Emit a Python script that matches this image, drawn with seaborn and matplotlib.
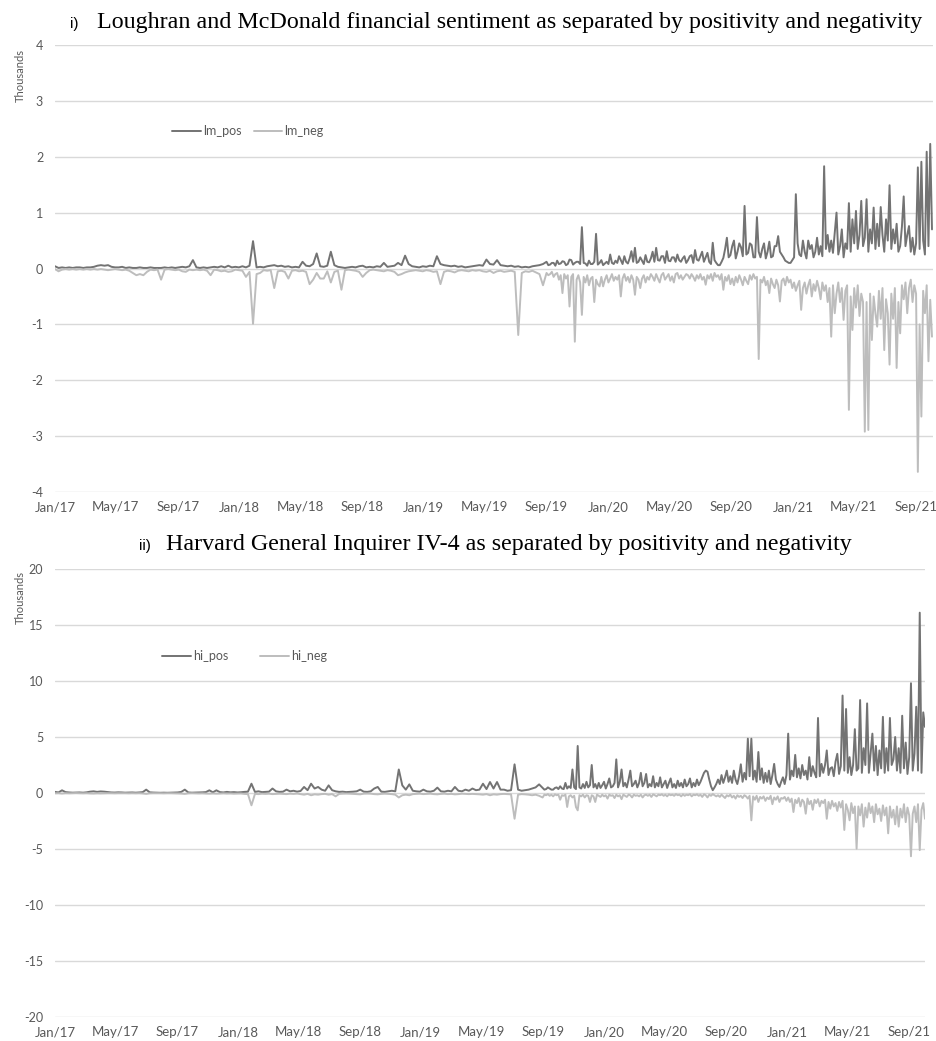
"""
Sentiment LM et Harvard IV-4 séparé en positif / négatif (valeurs en milliers).
"""

import matplotlib

matplotlib.use("Agg")

import matplotlib.dates as mdates
import matplotlib.pyplot as plt
import pandas as pd
import seaborn as sns


# Jusqu'à fin août 2019 : une valeur par semaine ; ensuite : deux par semaine
EARLY_START = "2017-01-01"
EARLY_STEP = "7D"
LATE_START = "2019-09-01"
LATE_STEP = "84h"

# Loughran & McDonald, en milliers
LM_POS_EARLY = [
    0.04, 0.01, 0.02, 0.01, 0.02, 0.01, 0.02, 0.02, 0.01, 0.02,
    0.02, 0.03, 0.05, 0.06, 0.05, 0.06, 0.03, 0.02, 0.02, 0.03,
    0.01, 0.02, 0.01, 0.01, 0.02, 0.01, 0.01, 0.02, 0.01, 0.01,
    0.01, 0.02, 0.01, 0.02, 0.01, 0.02, 0.03, 0.02, 0.04, 0.15,
    0.02, 0.01, 0.02, 0.01, 0.02, 0.03, 0.02, 0.04, 0.02, 0.05,
    0.02, 0.03, 0.02, 0.04, 0.02, 0.05, 0.49, 0.02, 0.03, 0.02,
    0.04, 0.05, 0.06, 0.04, 0.05, 0.03, 0.04, 0.02, 0.03, 0.02,
    0.12, 0.05, 0.04, 0.08, 0.27, 0.04, 0.03, 0.05, 0.30, 0.06,
    0.03, 0.02, 0.01, 0.02, 0.03, 0.02, 0.04, 0.05, 0.02, 0.03,
    0.02, 0.04, 0.03, 0.10, 0.03, 0.04, 0.05, 0.10, 0.06, 0.23,
    0.08, 0.04, 0.03, 0.02, 0.04, 0.03, 0.05, 0.04, 0.22, 0.08,
    0.06, 0.05, 0.04, 0.05, 0.03, 0.04, 0.02, 0.03, 0.04, 0.05,
    0.06, 0.05, 0.16, 0.08, 0.07, 0.15, 0.06, 0.05, 0.04, 0.05,
    0.03, 0.04, 0.02, 0.03, 0.02, 0.04, 0.05, 0.06, 0.08,
]
LM_POS_LATE = [
    0.12, 0.06, 0.07, 0.10, 0.10, 0.05, 0.14, 0.08, 0.09, 0.13,
    0.12, 0.06, 0.08, 0.16, 0.15, 0.07, 0.10, 0.12, 0.12, 0.08,
    0.74, 0.10, 0.09, 0.05, 0.14, 0.08, 0.08, 0.12, 0.62, 0.07,
    0.10, 0.15, 0.06, 0.09, 0.12, 0.08, 0.25, 0.10, 0.08, 0.14,
    0.10, 0.22, 0.15, 0.08, 0.22, 0.12, 0.09, 0.18, 0.31, 0.12,
    0.37, 0.10, 0.12, 0.20, 0.14, 0.08, 0.24, 0.12, 0.11, 0.18,
    0.30, 0.12, 0.37, 0.15, 0.14, 0.22, 0.22, 0.10, 0.31, 0.14,
    0.13, 0.20, 0.20, 0.12, 0.25, 0.15, 0.12, 0.18, 0.22, 0.10,
    0.15, 0.22, 0.24, 0.10, 0.33, 0.16, 0.14, 0.22, 0.30, 0.12,
    0.20, 0.28, 0.12, 0.08, 0.46, 0.15, 0.10, 0.06, 0.06, 0.12,
    0.19, 0.35, 0.55, 0.20, 0.24, 0.40, 0.50, 0.18, 0.30, 0.45,
    0.38, 0.22, 1.12, 0.25, 0.28, 0.45, 0.42, 0.20, 0.20, 0.92,
    0.30, 0.20, 0.35, 0.45, 0.18, 0.30, 0.48, 0.20, 0.22, 0.40,
    0.40, 0.58, 0.30, 0.25, 0.20, 0.14, 0.12, 0.10, 0.10, 0.15,
    0.20, 1.33, 0.45, 0.25, 0.22, 0.50, 0.30, 0.18, 0.50, 0.35,
    0.42, 0.20, 0.30, 0.55, 0.25, 0.40, 0.22, 1.83, 0.35, 0.60,
    0.30, 0.50, 0.28, 0.65, 1.00, 0.25, 0.40, 0.70, 0.20, 0.45,
    0.35, 1.17, 0.30, 0.88, 0.45, 1.03, 0.35, 0.60, 1.21, 0.40,
    0.55, 1.24, 0.30, 0.70, 0.45, 1.09, 0.35, 0.80, 0.40, 1.10,
    0.60, 0.30, 0.88, 0.50, 1.49, 0.35, 0.70, 0.45, 0.80, 0.30,
    0.40, 0.75, 1.29, 0.40, 0.60, 0.76, 0.30, 0.55, 0.25, 0.45,
    1.81, 0.35, 1.91, 0.50, 0.25, 2.09, 0.40, 2.23, 0.70,
]
LM_NEG_EARLY = [
    -0.01, -0.05, -0.02, -0.01, -0.02, -0.01, -0.02, -0.01, -0.02, -0.01,
    -0.02, -0.01, -0.02, -0.01, -0.02, -0.03, -0.02, -0.01, -0.02, -0.03,
    -0.02, -0.04, -0.08, -0.12, -0.10, -0.12, -0.06, -0.02, -0.03, -0.02,
    -0.20, -0.02, -0.01, -0.02, -0.03, -0.02, -0.05, -0.06, -0.02, -0.03,
    -0.02, -0.03, -0.02, -0.04, -0.12, -0.02, -0.03, -0.05, -0.04, -0.06,
    -0.05, -0.02, -0.03, -0.04, -0.15, -0.06, -0.99, -0.10, -0.08, -0.03,
    -0.04, -0.03, -0.35, -0.05, -0.04, -0.06, -0.18, -0.04, -0.03, -0.05,
    -0.04, -0.06, -0.28, -0.20, -0.08, -0.18, -0.18, -0.05, -0.25, -0.06,
    -0.04, -0.38, -0.03, -0.02, -0.03, -0.04, -0.06, -0.15, -0.08, -0.03,
    -0.02, -0.03, -0.04, -0.05, -0.03, -0.04, -0.06, -0.12, -0.10, -0.07,
    -0.05, -0.04, -0.03, -0.04, -0.05, -0.03, -0.04, -0.06, -0.05, -0.28,
    -0.06, -0.04, -0.05, -0.07, -0.04, -0.03, -0.04, -0.05, -0.03, -0.04,
    -0.03, -0.05, -0.06, -0.04, -0.08, -0.05, -0.04, -0.06, -0.05, -0.04,
    -0.06, -1.19, -0.08, -0.05, -0.06, -0.04, -0.07, -0.10, -0.30,
]
LM_NEG_LATE = [
    -0.08, -0.12, -0.10, -0.06, -0.15, -0.10, -0.08, -0.20, -0.12, -0.44,
    -0.10, -0.18, -0.12, -0.68, -0.15, -0.10, -1.31, -0.20, -0.12, -0.25,
    -0.83, -0.15, -0.25, -0.12, -0.30, -0.18, -0.15, -0.60, -0.20, -0.28,
    -0.32, -0.15, -0.32, -0.20, -0.12, -0.25, -0.18, -0.10, -0.22, -0.15,
    -0.20, -0.12, -0.50, -0.18, -0.10, -0.22, -0.15, -0.25, -0.12, -0.20,
    -0.47, -0.15, -0.20, -0.35, -0.18, -0.12, -0.25, -0.15, -0.20, -0.10,
    -0.15, -0.22, -0.10, -0.18, -0.25, -0.12, -0.08, -0.20, -0.15, -0.10,
    -0.22, -0.14, -0.25, -0.10, -0.08, -0.18, -0.12, -0.20, -0.15, -0.10,
    -0.12, -0.18, -0.10, -0.15, -0.22, -0.12, -0.18, -0.10, -0.20, -0.15,
    -0.29, -0.12, -0.18, -0.10, -0.22, -0.08, -0.15, -0.12, -0.20, -0.10,
    -0.38, -0.15, -0.22, -0.12, -0.28, -0.18, -0.30, -0.15, -0.25, -0.12,
    -0.20, -0.30, -0.15, -0.22, -0.28, -0.12, -0.20, -0.10, -0.18, -0.15,
    -1.62, -0.20, -0.25, -0.15, -0.30, -0.22, -0.44, -0.18, -0.28, -0.35,
    -0.20, -0.30, -0.59, -0.22, -0.18, -0.30, -0.15, -0.25, -0.20, -0.35,
    -0.25, -0.40, -0.30, -0.22, -0.74, -0.35, -0.25, -0.45, -0.30, -0.20,
    -0.50, -0.28, -0.40, -0.22, -0.35, -0.55, -0.25, -0.40, -0.30, -0.60,
    -0.35, -1.22, -0.30, -0.80, -0.45, -0.25, -0.60, -0.35, -0.92, -0.40,
    -0.30, -2.53, -0.50, -1.10, -0.35, -0.70, -0.30, -0.85, -0.45, -0.60,
    -2.92, -0.60, -2.89, -0.45, -1.28, -0.50, -0.80, -1.04, -0.40, -0.90,
    -0.35, -1.46, -0.55, -0.80, -1.72, -0.45, -0.90, -0.35, -1.78, -0.60,
    -1.16, -0.30, -0.55, -0.25, -0.80, -0.35, -0.20, -0.60, -0.30, -0.45,
    -3.64, -1.00, -2.65, -0.40, -0.80, -0.30, -1.66, -0.56, -1.22,
]

# Harvard General Inquirer IV-4, en milliers
HI_POS_EARLY = [
    0.10, 0.05, 0.24, 0.08, 0.05, 0.03, 0.04, 0.05, 0.03, 0.06,
    0.12, 0.15, 0.10, 0.14, 0.12, 0.08, 0.05, 0.04, 0.06, 0.05,
    0.03, 0.04, 0.05, 0.03, 0.05, 0.08, 0.30, 0.06, 0.04, 0.03,
    0.02, 0.03, 0.02, 0.03, 0.04, 0.05, 0.10, 0.30, 0.05, 0.03,
    0.04, 0.05, 0.06, 0.08, 0.24, 0.06, 0.24, 0.08, 0.05, 0.10,
    0.06, 0.08, 0.05, 0.07, 0.10, 0.12, 0.83, 0.10, 0.15, 0.08,
    0.10, 0.12, 0.40, 0.15, 0.10, 0.12, 0.30, 0.15, 0.20, 0.12,
    0.18, 0.54, 0.25, 0.83, 0.40, 0.54, 0.30, 0.20, 0.68, 0.25,
    0.15, 0.10, 0.12, 0.08, 0.10, 0.12, 0.15, 0.30, 0.12, 0.10,
    0.15, 0.40, 0.54, 0.12, 0.10, 0.15, 0.20, 0.15, 2.10, 0.68,
    0.30, 0.77, 0.20, 0.15, 0.12, 0.30, 0.15, 0.12, 0.20, 0.48,
    0.15, 0.12, 0.20, 0.15, 0.54, 0.20, 0.15, 0.30, 0.20, 0.40,
    0.25, 0.30, 0.83, 0.35, 0.98, 0.40, 0.98, 0.30, 0.30, 0.20,
    0.25, 2.56, 0.30, 0.20, 0.25, 0.30, 0.40, 0.50, 0.77,
]
HI_POS_LATE = [
    0.45, 0.30, 0.35, 0.50, 0.40, 0.30, 0.30, 0.45, 0.50, 0.35,
    0.60, 0.40, 0.35, 0.90, 0.40, 0.60, 0.45, 2.10, 0.50, 0.35,
    4.20, 0.50, 0.40, 0.80, 0.45, 1.00, 0.50, 0.70, 2.50, 0.50,
    0.80, 0.40, 0.90, 0.45, 0.70, 1.00, 0.40, 0.80, 1.30, 0.50,
    0.60, 0.90, 3.00, 0.50, 1.00, 2.10, 0.60, 0.90, 0.50, 1.20,
    2.00, 0.60, 0.80, 1.10, 0.50, 0.90, 1.80, 0.60, 0.90, 1.70,
    0.50, 0.80, 0.60, 1.50, 0.50, 0.90, 0.60, 1.40, 0.50, 0.80,
    1.10, 0.45, 0.90, 1.30, 0.50, 0.80, 0.45, 1.10, 0.60, 0.90,
    0.50, 1.20, 0.60, 0.80, 1.30, 0.50, 0.90, 0.60, 1.20, 0.70,
    1.00, 1.40, 1.80, 2.00, 1.90, 1.20, 0.60, 0.25, 0.50, 0.80,
    1.20, 0.80, 1.60, 0.90, 1.40, 2.00, 1.00, 1.50, 0.90, 2.00,
    1.20, 0.80, 1.50, 2.56, 1.00, 1.80, 1.20, 4.85, 1.50, 4.85,
    1.20, 2.00, 1.00, 3.66, 1.20, 2.20, 0.90, 1.80, 1.00, 2.00,
    0.80, 1.60, 2.60, 1.20, 0.80, 0.54, 1.00, 1.40, 0.80, 1.60,
    5.30, 1.20, 2.00, 1.50, 3.40, 1.40, 2.20, 1.30, 2.50, 1.60,
    2.00, 1.20, 3.20, 1.50, 2.40, 1.80, 1.40, 6.70, 1.50, 2.60,
    1.80, 2.50, 3.80, 1.60, 2.20, 2.30, 1.50, 2.80, 3.50, 1.70,
    2.40, 8.70, 2.00, 7.50, 1.80, 3.20, 1.60, 2.50, 5.70, 2.00,
    2.20, 8.30, 1.80, 4.00, 2.50, 8.00, 1.80, 3.50, 5.30, 2.00,
    4.20, 1.60, 3.80, 2.20, 6.80, 1.80, 4.00, 2.00, 6.70, 2.50,
    3.00, 5.00, 2.00, 4.00, 1.80, 6.90, 2.20, 4.50, 1.70, 3.20,
    9.80, 2.00, 3.50, 7.70, 2.00, 16.10, 1.80, 7.20, 5.90,
]
HI_NEG_EARLY = [
    -0.03, -0.02, -0.05, -0.02, -0.03, -0.02, -0.01, -0.02, -0.03, -0.02,
    -0.04, -0.05, -0.03, -0.04, -0.03, -0.02, -0.02, -0.03, -0.02, -0.02,
    -0.02, -0.03, -0.02, -0.03, -0.02, -0.04, -0.08, -0.03, -0.02, -0.02,
    -0.02, -0.03, -0.02, -0.02, -0.03, -0.04, -0.05, -0.08, -0.03, -0.02,
    -0.03, -0.04, -0.03, -0.05, -0.06, -0.04, -0.06, -0.05, -0.03, -0.05,
    -0.04, -0.06, -0.05, -0.04, -0.08, -0.10, -1.10, -0.08, -0.10, -0.06,
    -0.08, -0.06, -0.10, -0.08, -0.06, -0.08, -0.10, -0.06, -0.08, -0.05,
    -0.10, -0.15, -0.08, -0.20, -0.12, -0.15, -0.10, -0.08, -0.15, -0.10,
    -0.30, -0.08, -0.06, -0.05, -0.06, -0.08, -0.10, -0.12, -0.06, -0.05,
    -0.06, -0.10, -0.12, -0.08, -0.06, -0.08, -0.10, -0.15, -0.40, -0.20,
    -0.15, -0.20, -0.10, -0.08, -0.06, -0.10, -0.08, -0.06, -0.10, -0.12,
    -0.08, -0.06, -0.10, -0.08, -0.12, -0.10, -0.06, -0.08, -0.10, -0.08,
    -0.10, -0.12, -0.15, -0.10, -0.20, -0.12, -0.15, -0.10, -0.08, -0.10,
    -0.12, -2.30, -0.15, -0.10, -0.12, -0.15, -0.20, -0.15, -0.25,
]
HI_NEG_LATE = [
    -0.40, -0.15, -0.20, -0.10, -0.25, -0.15, -0.30, -0.12, -0.20, -0.15,
    -0.60, -0.20, -0.25, -0.15, -1.25, -0.30, -0.20, -0.40, -0.25, -1.25,
    -1.55, -0.20, -0.30, -0.15, -0.40, -0.20, -0.25, -0.80, -0.20, -0.30,
    -0.80, -0.15, -0.25, -0.35, -0.15, -0.30, -0.20, -0.50, -0.15, -0.25,
    -0.20, -0.45, -0.15, -0.30, -0.20, -0.55, -0.15, -0.25, -0.35, -0.15,
    -0.20, -0.40, -0.15, -0.25, -0.20, -0.30, -0.15, -0.40, -0.20, -0.15,
    -0.25, -0.15, -0.35, -0.12, -0.20, -0.30, -0.15, -0.20, -0.12, -0.25,
    -0.15, -0.30, -0.12, -0.20, -0.15, -0.25, -0.10, -0.20, -0.15, -0.30,
    -0.12, -0.25, -0.15, -0.20, -0.10, -0.30, -0.15, -0.20, -0.12, -0.25,
    -0.15, -0.35, -0.12, -0.20, -0.40, -0.15, -0.25, -0.10, -0.20, -0.30,
    -0.20, -0.35, -0.15, -0.30, -0.45, -0.20, -0.30, -0.15, -0.40, -0.25,
    -0.50, -0.20, -0.35, -0.25, -0.45, -0.20, -0.30, -0.50, -0.25, -2.44,
    -0.30, -0.60, -0.25, -0.80, -0.35, -0.50, -0.30, -0.70, -0.40, -0.55,
    -0.25, -1.00, -0.40, -0.60, -0.30, -0.80, -0.45, -0.50, -0.35, -0.70,
    -0.40, -0.80, -0.50, -1.70, -0.60, -0.90, -0.45, -1.20, -0.60, -0.80,
    -1.85, -0.50, -1.00, -0.70, -1.50, -0.60, -0.90, -0.55, -1.20, -0.70,
    -0.90, -0.60, -2.30, -0.80, -1.40, -0.70, -1.20, -0.90, -1.60, -0.80,
    -1.30, -0.70, -3.30, -1.00, -1.50, -2.44, -0.90, -1.80, -1.20, -4.97,
    -1.20, -2.00, -1.00, -3.00, -1.30, -2.20, -0.90, -1.80, -1.20, -2.60,
    -1.00, -1.90, -1.40, -2.50, -1.10, -2.00, -1.30, -3.60, -1.20, -2.20,
    -1.50, -2.80, -1.20, -3.00, -1.40, -2.20, -1.00, -2.60, -1.30, -2.00,
    -5.65, -1.85, -1.20, -2.60, -1.00, -5.10, -1.50, -0.90, -2.30,
]

TOP_NAMES = ["lm_pos", "lm_neg"]
BOTTOM_NAMES = ["hi_pos", "hi_neg"]
TOP_TITLE = "Loughran and McDonald financial sentiment as separated by positivity and negativity"
BOTTOM_TITLE = "Harvard General Inquirer IV-4 as separated by positivity and negativity"
TOP_YTICKS = [-4, -3, -2, -1, 0, 1, 2, 3, 4]
BOTTOM_YTICKS = [-20, -15, -10, -5, 0, 5, 10, 15, 20]

DARK = "#737373"
LIGHT = "#bdbdbd"
GRID = "#d9d9d9"
TEXT = "#595959"
W, H = 936, 1041
SANS = ["Lato", "DejaVu Sans"]


def fx(px: float) -> float:
    """Pixel horizontal -> fraction de figure."""
    return px / W


def fy(px: float) -> float:
    """Pixel vertical (depuis le haut) -> fraction de figure."""
    return 1 - px / H


def series_dates(n_early: int, n_late: int) -> pd.DatetimeIndex:
    """Dates hebdomadaires puis bi-hebdomadaires."""
    early = pd.date_range(EARLY_START, periods=n_early, freq=EARLY_STEP)
    late = pd.date_range(LATE_START, periods=n_late, freq=LATE_STEP)
    return early.append(late)


def build_frame(pos_early, pos_late, neg_early, neg_late, names) -> pd.DataFrame:
    """Table longue date / série / valeur pour seaborn."""
    dates = series_dates(len(pos_early), len(pos_late))
    frame = pd.DataFrame(
        {
            "date": dates,
            names[0]: pos_early + pos_late,
            names[1]: neg_early + neg_late,
        }
    )
    return frame.melt(id_vars="date", var_name="series", value_name="value")


def draw_panel(ax, frame, names, yticks, x_end) -> None:
    """Trace un panneau (deux courbes) avec le style Excel."""
    sns.lineplot(
        data=frame,
        x="date",
        y="value",
        hue="series",
        hue_order=names,
        palette=[DARK, LIGHT],
        estimator=None,
        linewidth=1.4,
        legend=False,
        ax=ax,
    )
    ax.set_xlim(pd.Timestamp(EARLY_START), pd.Timestamp(x_end))
    ax.set_ylim(yticks[0], yticks[-1])
    ax.set_yticks(yticks)
    ax.set_yticklabels([str(t) for t in yticks])
    ax.xaxis.set_major_locator(mdates.MonthLocator(bymonth=[1, 5, 9]))
    ax.xaxis.set_major_formatter(mdates.DateFormatter("%b/%y"))
    ax.set_xlabel("")
    ax.set_ylabel("")
    ax.grid(False)
    ax.yaxis.grid(True, color=GRID, linewidth=1.0)
    ax.set_axisbelow(True)
    for spine in ax.spines.values():
        spine.set_visible(False)
    ax.tick_params(axis="y", length=0, pad=8.5, labelsize=9, labelcolor=TEXT)
    ax.tick_params(axis="x", length=0, pad=6.5, labelsize=9.5, labelcolor=TEXT)
    for label in ax.get_xticklabels() + ax.get_yticklabels():
        label.set_family(SANS)


def add_legend(fig, ax, names, x_px, y_px, spacing) -> None:
    """Légende horizontale sans cadre, placée au pixel près."""
    ax.legend(
        ax.lines[:2],
        names,
        loc="center left",
        bbox_to_anchor=(fx(x_px), fy(y_px)),
        bbox_transform=fig.transFigure,
        ncol=2,
        frameon=False,
        borderpad=0,
        borderaxespad=0,
        handlelength=2.3,
        handletextpad=0.15,
        columnspacing=spacing,
        prop={"family": SANS, "size": 9},
        labelcolor=TEXT,
    )


def add_title(fig, tag, text, tag_x, text_x, y_px) -> None:
    """Titre en serif précédé d'un numéro en sans-serif."""
    fig.text(fx(tag_x), fy(y_px), tag, family="Liberation Sans", fontsize=11,
             color="black", va="baseline", ha="left")
    fig.text(fx(text_x), fy(y_px), text, family="Liberation Serif", fontsize=17.3,
             color="black", va="baseline", ha="left")


def main() -> None:
    """Construit la figure complète et l'enregistre dans out.png."""
    sns.set_theme(style="white")
    plt.rcParams["axes.unicode_minus"] = False
    plt.rcParams["font.family"] = SANS

    fig = plt.figure(figsize=(W / 100, H / 100), dpi=100)

    ax_top = fig.add_axes([fx(55), fy(492), fx(933 - 55), (492 - 45) / H])
    ax_bottom = fig.add_axes([fx(55), fy(1017), fx(925 - 55), (1017 - 569) / H])

    top = build_frame(LM_POS_EARLY, LM_POS_LATE, LM_NEG_EARLY, LM_NEG_LATE, TOP_NAMES)
    bottom = build_frame(HI_POS_EARLY, HI_POS_LATE, HI_NEG_EARLY, HI_NEG_LATE, BOTTOM_NAMES)
    draw_panel(ax_top, top, TOP_NAMES, TOP_YTICKS, "2021-10-05")
    draw_panel(ax_bottom, bottom, BOTTOM_NAMES, BOTTOM_YTICKS, "2021-10-03")

    add_legend(fig, ax_top, TOP_NAMES, 172, 131, 1.0)
    add_legend(fig, ax_bottom, BOTTOM_NAMES, 162, 656, 2.6)

    add_title(fig, "i)", TOP_TITLE, 70, 97, 28)
    add_title(fig, "ii)", BOTTOM_TITLE, 139, 166, 550)

    fig.text(fx(20), fy(75), "Thousands", rotation=90, ha="center", va="center",
             fontsize=8, color=TEXT, family=SANS)
    fig.text(fx(20), fy(598), "Thousands", rotation=90, ha="center", va="center",
             fontsize=8, color=TEXT, family=SANS)

    fig.savefig("out.png", dpi=100)
    plt.close(fig)


if __name__ == "__main__":
    main()
